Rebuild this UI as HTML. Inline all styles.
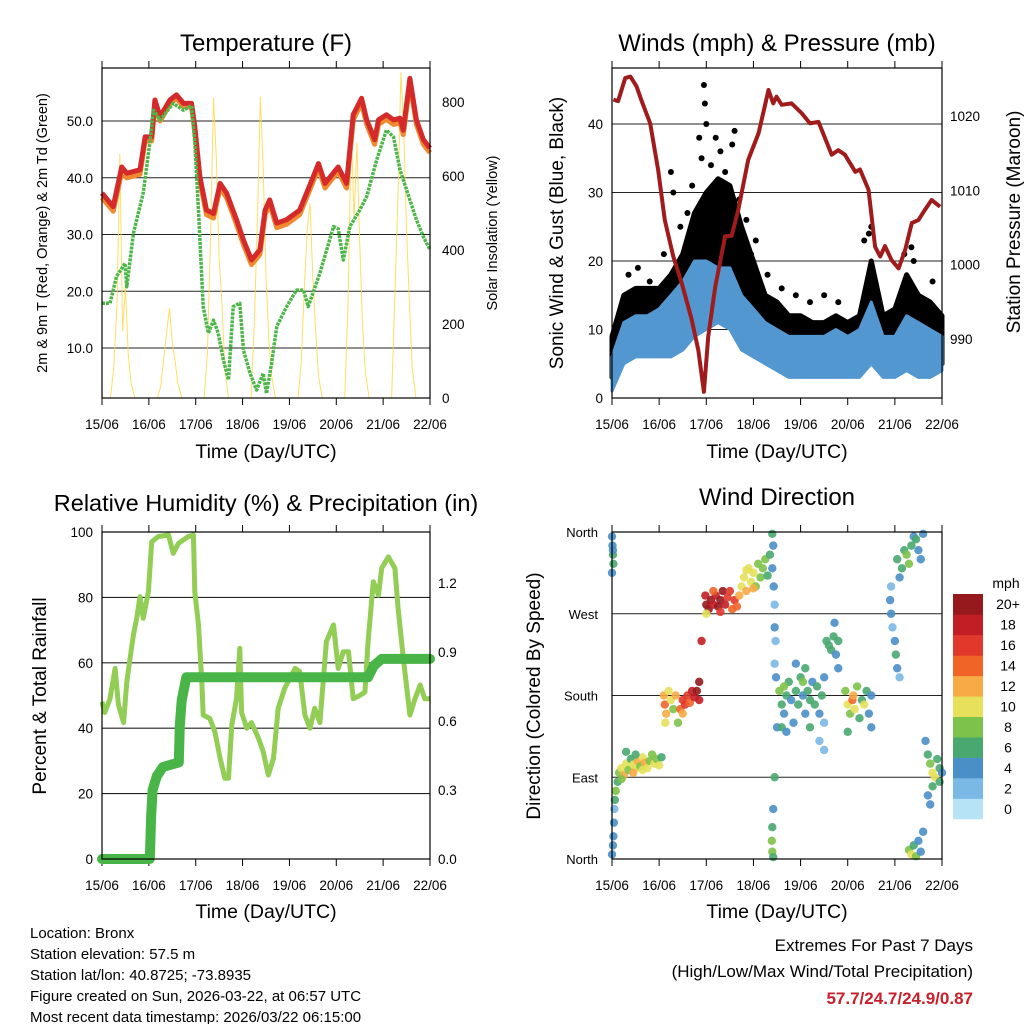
<!DOCTYPE html>
<html><head><meta charset="utf-8"><style>
html,body{margin:0;padding:0;background:#fff;}
svg{display:block;font-family:"Liberation Sans",Arial,sans-serif;}
</style></head><body>
<svg id="chart" width="1024" height="1024" viewBox="0 0 1024 1024" xmlns="http://www.w3.org/2000/svg">
<rect x="0" y="0" width="1024" height="1024" fill="#fff"/>
<g id="p1"></g>
<g id="p2"></g>
<g id="p3"></g>
<g id="p4"></g>

<text x="266" y="51" font-size="24" text-anchor="middle">Temperature (F)</text>
<text x="777" y="51" font-size="24" text-anchor="middle">Winds (mph) &amp; Pressure (mb)</text>
<text x="266" y="511" font-size="23.5" text-anchor="middle">Relative Humidity (%) &amp; Precipitation (in)</text>
<text x="777" y="505" font-size="24" text-anchor="middle">Wind Direction</text>

<text x="266" y="458" font-size="19.5" text-anchor="middle">Time (Day/UTC)</text>
<text x="777" y="458" font-size="19.5" text-anchor="middle">Time (Day/UTC)</text>
<text x="266" y="918" font-size="19.5" text-anchor="middle">Time (Day/UTC)</text>
<text x="777" y="918" font-size="19.5" text-anchor="middle">Time (Day/UTC)</text>

<text transform="translate(47,233) rotate(-90)" font-size="14.5" text-anchor="middle">2m &amp; 9m T (Red, Orange) &amp; 2m Td (Green)</text>
<text transform="translate(497,233) rotate(-90)" font-size="14.5" text-anchor="middle">Solar Insolation (Yellow)</text>
<text transform="translate(563,233) rotate(-90)" font-size="19" text-anchor="middle">Sonic Wind &amp; Gust (Blue, Black)</text>
<text transform="translate(1020,222) rotate(-90)" font-size="19" text-anchor="middle">Station Pressure (Maroon)</text>
<text transform="translate(46,696) rotate(-90)" font-size="19" text-anchor="middle">Percent &amp; Total Rainfall</text>
<text transform="translate(540,696) rotate(-90)" font-size="19" text-anchor="middle">Direction (Colored By Speed)</text>

<g font-size="15">
<text x="30" y="938">Location: Bronx</text>
<text x="30" y="959">Station elevation: 57.5 m</text>
<text x="30" y="980">Station lat/lon: 40.8725; -73.8935</text>
<text x="30" y="1001">Figure created on Sun, 2026-03-22, at 06:57 UTC</text>
<text x="30" y="1022">Most recent data timestamp: 2026/03/22 06:15:00</text>
</g>
<g text-anchor="end">
<text x="973" y="951" font-size="17">Extremes For Past 7 Days</text>
<text x="973" y="977" font-size="17">(High/Low/Max Wind/Total Precipitation)</text>
<text x="973" y="1004" font-size="17" font-weight="bold" fill="#c8202a">57.7/24.7/24.9/0.87</text>
</g>
<g id="cbar">
<text x="1006" y="588" font-size="14" text-anchor="middle">mph</text>
</g>
</svg>
<script>
// ---- Data ----
var dayLabels = ["15/06","16/06","17/06","18/06","19/06","20/06","21/06","22/06"];
var tempT = [0,0.24,0.42,0.53,0.81,0.92,1.06,1.13,1.24,1.45,1.59,1.74,1.91,1.98,2.09,2.23,2.38,2.52,2.66,2.87,3.02,3.19,3.37,3.48,3.58,3.73,3.94,4.22,4.51,4.62,4.76,5.04,5.22,5.36,5.54,5.65,5.82,5.90,6.07,6.22,6.36,6.43,6.57,6.71,6.86,7.0];
var temp2mV = [37.3,34.9,41.9,40.8,41.4,47.2,47.2,53.7,50.8,53.7,54.6,53.1,53.1,49.0,40.2,34.3,33.7,39.0,37.3,32.6,29.0,25.5,27.3,34.3,36.1,32.0,32.6,34.3,40.2,42.5,39.0,41.9,39.0,51.1,54.0,50.2,46.7,50.2,51.1,50.2,50.5,48.4,57.5,50.2,46.7,45.2];
var temp9mV = [36.5,34.1,41.0,40.0,40.6,46.4,46.5,53.0,50.0,53.0,54.0,52.5,52.5,48.3,39.4,33.5,32.9,38.2,36.5,31.8,28.2,24.7,26.5,33.5,35.3,31.2,31.8,33.5,39.4,41.7,38.2,41.1,38.2,50.2,53.2,49.4,45.9,49.4,50.3,49.4,49.7,47.6,56.7,49.4,45.9,44.4];
var dewT = [0,0.17,0.31,0.49,0.53,0.67,0.88,1.02,1.10,1.24,1.52,1.74,1.91,1.98,2.06,2.16,2.27,2.38,2.48,2.59,2.70,2.80,2.94,3.02,3.16,3.30,3.44,3.51,3.62,3.73,3.94,4.15,4.30,4.40,4.65,4.94,5.04,5.15,5.29,5.50,5.65,5.86,6.07,6.22,6.36,6.57,6.71,6.86,7.0];
var dewV = [17.9,17.9,22.6,24.9,20.8,30.2,37.3,46.1,51.9,50.2,53.1,51.9,52.7,46.1,34.3,17.3,12.6,14.9,12.6,7.9,4.4,17.3,17.9,9.6,5.5,2.6,5.5,2.0,7.3,13.8,17.3,20.2,20.2,17.3,23.2,31.4,31.0,25.5,31.4,34.3,36.7,43.1,48.4,47.2,41.4,36.1,32.6,29.6,27.3];
var solarT = [0.18,0.25,0.32,0.38,0.44,0.5,0.56,0.62,0.7, 1.18,1.25,1.32,1.38,1.44,1.5,1.56,1.62,1.7, 2.18,2.25,2.32,2.38,2.44,2.5,2.56,2.62,2.7, 3.18,3.25,3.32,3.38,3.44,3.5,3.56,3.62,3.7, 4.18,4.25,4.32,4.38,4.44,4.5,4.56,4.62,4.7, 5.18,5.25,5.32,5.38,5.44,5.5,5.56,5.62,5.7, 6.18,6.25,6.32,6.38,6.44,6.5,6.56,6.62,6.7];
var solarV = [0,80,250,660,180,300,120,40,0, 0,30,110,180,243,150,100,40,0, 0,120,450,811,650,380,250,80,0, 0,200,500,814,620,330,160,60,0, 0,90,300,450,527,320,180,60,0, 0,250,732,480,690,420,200,70,0, 0,280,560,880,720,450,260,80,0];
var pressT = [0.03,0.13,0.28,0.39,0.52,0.63,0.81,0.98,1.12,1.30,1.48,1.69,1.83,1.95,2.04,2.19,2.40,2.54,2.68,2.89,3.11,3.32,3.42,3.49,3.60,3.81,4.02,4.20,4.38,4.66,4.80,4.94,5.16,5.26,5.44,5.58,5.69,5.79,5.93,6.08,6.22,6.36,6.50,6.64,6.78,6.96];
var pressV = [1022.2,1022.0,1025.1,1025.3,1024.0,1022.0,1019.0,1012.7,1006.0,1001.1,997.5,992.6,988.5,982.9,990.3,997.0,1003.8,1003.9,1007.4,1014.1,1017.7,1023.5,1021.7,1022.6,1021.5,1021.7,1020.4,1019.0,1019.2,1014.8,1015.4,1014.8,1012.5,1012.8,1010.1,1002.4,1001.1,1002.5,1000.6,999.5,1002.0,1005.6,1006.0,1007.4,1008.7,1007.8];
var windT = [0,0.25,0.5,0.75,1,1.25,1.5,1.75,2,2.25,2.5,2.75,3,3.25,3.5,3.75,4,4.25,4.5,4.75,5,5.25,5.5,5.75,6,6.25,6.5,6.75,7];
var gustHi = [9,15,16,16,16,18,21,27,30,32,31,25,20,15,14,12,12,11,11,12,11,12,20,12,13,18,15,14,12];
var gustLo = [3,8,9,9,9,10,11,13,14,16,15,11,9,8,7,6,6,6,6,6,5,6,8,6,6,7,6,6,5];
var windHi = [6,11,12,12,13,15,17,20,20,19,19,15,13,11,10,9,9,9,9,10,9,10,14,9,9,12,11,10,9];
var windLo = [1,5,6,6,6,6,7,9,10,11,10,7,6,5,4,3,3,3,3,3,3,3,5,3,3,4,3,3,4];
var gustPeakT = [1.25,1.3,1.95,1.97,2.0,1.85,2.55,2.6,2.95,4.5,5.5,6.35,1.6,2.2,0.55,0.8,1.1,1.7,1.9,2.1,2.3,2.4,2.7,2.85,3.05,3.3,3.6,3.9,4.2,4.8,5.35,5.45,6.2,6.4,6.8,0.35,1.45];
var gustPeakV = [33,30,45.7,43,40,38,37,39,21,15,25,22,27,38,19,17,21,31,35,34,36,33,29,26,23,18,16,15,14,14,23,24,21,20,17,18,25];
var rhT = [0,0.06,0.17,0.28,0.35,0.46,0.53,0.60,0.67,0.74,0.81,0.88,0.99,1.06,1.20,1.42,1.52,1.63,1.84,1.95,1.98,2.06,2.13,2.16,2.30,2.41,2.52,2.62,2.70,2.77,2.87,2.94,2.98,3.09,3.19,3.34,3.44,3.55,3.66,3.76,3.90,4.12,4.22,4.33,4.44,4.54,4.65,4.79,4.94,5.04,5.15,5.26,5.36,5.50,5.61,5.68,5.79,5.90,5.97,6.11,6.25,6.32,6.43,6.57,6.68,6.79,6.89,7.0];
var rhV = [48.1,44.8,49.0,58.3,47.2,41.7,54.2,61.4,68.5,73.6,80.2,73.6,81.7,97.0,98.6,99.1,93.5,96.5,98.6,99.1,81.7,71.6,54.2,44.0,43.0,38.9,30.8,24.7,24.7,41.0,49.0,64.4,44.8,40.0,41.7,36.9,32.8,25.7,30.8,46.1,52.2,58.3,57.3,44.0,40.0,46.1,41.7,66.5,71.6,58.3,63.4,63.4,49.0,50.0,51.0,66.5,84.8,80.7,88.9,92.4,88.9,76.7,61.4,44.0,49.0,53.2,49.0,49.0];
var precipT = [0,1.02,1.05,1.08,1.17,1.30,1.64,1.66,1.70,1.80,5.68,5.80,5.97,7.0];
var precipV = [0,0,0.19,0.30,0.36,0.40,0.42,0.58,0.69,0.79,0.79,0.84,0.87,0.87];
var dirT = [0.0,0.01,0.02,0.03,0.0,0.02, 0.0,0.02,0.03,0.04,0.05,0.06,0.08,
 0.12,0.15,0.2,0.25,0.3,0.35,0.4,0.45,0.5,0.55,0.6,0.65,0.7,0.75,0.8,0.85,0.9,0.95,1.0,1.05,0.3,0.5,0.2,0.45,0.65,
 1.1,1.12,1.15,1.13,1.2,1.25,1.3,1.35,1.45,1.5,1.55,1.6,1.65,1.7,1.75,1.8,1.85,1.85,1.4,1.5,1.9,
 1.98,2.0,2.05,2.1,2.15,2.2,2.25,2.3,2.35,2.4,2.45,2.5,2.55,2.6,2.65,2.7,2.0,2.3,2.15,
 2.75,2.8,2.85,2.9,2.95,3.0,3.05,3.1,3.15,3.2,3.25,3.3,3.35,2.85,3.0,
 3.4,3.42,3.4,3.43,3.45,3.45,3.47,3.45,3.48,3.5,3.45,3.42,3.4,3.39,3.4,3.42,
 3.55,3.6,3.6,3.65,3.7,3.75,3.8,3.85,3.9,3.95,4.0,4.05,4.1,4.1,4.15,4.2,4.25,4.3,4.35,4.4,4.45,4.5,4.5,3.7,3.9,4.2,4.4,4.5,3.65,4.05,
 4.55,4.6,4.65,4.7,4.75,4.8,4.72,4.8,
 4.95,5.0,5.05,5.1,5.12,5.15,5.2,5.25,5.3,5.35,5.4,5.45,5.5,5.5,5.0,
 5.9,5.92,5.95,6.0,6.02,6.05,6.1,5.92,
 6.05,6.1,6.15,6.2,6.25,6.3,6.35,6.4,6.45,6.5,6.55,6.6,
 6.65,6.7,6.75,6.8,6.85,6.9,6.95,6.95,7.0,6.7,6.75,6.8,
 6.3,6.35,6.4,6.45,6.5,6.55,6.6];
var dirV = [355,345,335,325,315,340, 5,15,25,40,55,65,75,
 85,95,100,92,105,98,110,104,100,108,102,112,106,100,108,115,105,110,103,112,118,115,88,95,98,
 180,170,160,150,185,175,165,180,165,175,170,180,172,185,178,185,195,175,150,160,240,
 290,280,275,285,280,290,278,285,295,280,288,295,275,285,278,290,270,272,295,
 300,310,295,320,305,315,300,325,310,320,330,312,335,318,298,
 358,345,320,300,280,255,240,215,200,145,90,55,35,20,8,2,
 185,170,145,160,180,195,175,150,185,170,200,180,160,210,185,175,195,170,190,160,180,150,200,140,215,145,130,120,190,195,
 240,235,230,245,225,240,260,210,
 185,170,160,175,180,165,190,155,175,170,185,160,180,145,140,
 285,270,255,240,225,210,200,300,
 330,310,320,340,335,325,345,355,352,340,330,358,
 130,115,105,95,90,110,100,85,95,70,60,80,
 10,5,15,3,20,8,30];
var dirS = [4,4,6,6,5,4, 4,5,4,4,3,6,8,
 7,9,11,13,10,8,7,11,10,12,9,10,12,11,9,8,10,9,10,7,6,7,8,12,11,
 13,14,12,11,11,10,9,12,15,16,16,17,15,18,19,20,20,18,8,12,19,
 18,20,20,20,18,19,20,20,20,18,17,16,15,17,14,12,10,16,14,
 11,10,12,10,11,10,9,9,8,9,8,7,7,10,12,
 6,5,4,4,3,4,3,3,4,4,6,4,7,8,8,7,
 8,7,6,4,6,7,5,4,6,7,6,5,4,6,7,6,5,6,7,4,6,3,5,4,5,7,2,2,8,8,
 7,6,7,6,5,6,4,4,
 9,10,8,14,13,11,8,6,7,10,6,5,4,4,6,
 4,4,3,5,7,4,3,2,
 6,5,7,6,9,8,6,5,7,4,4,5,
 4,6,8,11,10,7,6,7,5,4,5,7,
 8,10,7,9,5,4,4];
var speedLabels = ["0","2","4","6","8","10","12","14","16","18","20+"];
var speedColors = ["#b7e3f7","#7ab8e6","#4a8fc8","#48a870","#7dc24a","#e6e05a","#f7aa45","#f06428","#e0392b","#c21e25","#961a1d"];

// ---- helpers ----
var NS = "http://www.w3.org/2000/svg";
function mk(parent, tag, attrs) {
  var e = document.createElementNS(NS, tag);
  for (var k in attrs) e.setAttribute(k, attrs[k]);
  parent.appendChild(e);
  return e;
}
function lin(d0, d1, r0, r1) { return function (v) { return r0 + (v - d0) / (d1 - d0) * (r1 - r0); }; }
function pathFrom(ts, vs, sx, sy) {
  var d = "";
  for (var i = 0; i < ts.length; i++) d += (i ? "L" : "M") + sx(ts[i]).toFixed(1) + "," + sy(vs[i]).toFixed(1);
  return d;
}
function bandFrom(ts, hi, lo, sx, sy) {
  var d = "";
  for (var i = 0; i < ts.length; i++) d += (i ? "L" : "M") + sx(ts[i]).toFixed(1) + "," + sy(hi[i]).toFixed(1);
  for (var j = ts.length - 1; j >= 0; j--) d += "L" + sx(ts[j]).toFixed(1) + "," + sy(lo[j]).toFixed(1);
  return d + "Z";
}

function frame(g, x0, y0, x1, y1) {
  var sx = lin(0, 7, x0, x1);
  for (var i = 0; i < dayLabels.length; i++) {
    var x = sx(i);
    var t = mk(g, "line", {x1: x, y1: y1, x2: x, y2: y1 + 7, stroke: "#000", "stroke-width": 1});
    
    
    var t2 = mk(g, "line", {x1: x, y1: y0, x2: x, y2: y0 - 7, stroke: "#000", "stroke-width": 1});
    
    
    var lb = mk(g, "text", {x: x, y: y1 + 31, "font-size": 13.5, "text-anchor": "middle"});
    lb.textContent = dayLabels[i];
    
    
  }
  return sx;
}
function border(g, x0, y0, x1, y1) {
  var r = mk(g, "rect", {x: x0, y: y0, width: x1 - x0, height: y1 - y0, fill: "none", stroke: "#000", "stroke-width": 1.2});
  
  
}
function hgrid(g, x0, x1, y) {
  var l = mk(g, "line", {x1: x0, y1: y, x2: x1, y2: y, stroke: "#222", "stroke-width": 1.1});
  
  
}
function ylabel(g, x, y, txt, anchor, size) {
  var t = mk(g, "text", {x: x, y: y + 5, "font-size": size || 13.5, "text-anchor": anchor});
  t.textContent = txt;
  
  
}

// ---- Panel 1: Temperature ----
(function () {
  var g = document.getElementById("p1");
  var X0 = 102, X1 = 430, Y0 = 68, Y1 = 398;
  var sx = frame(g, X0, Y0, X1, Y1);
  var sy = lin(10, 50, 348, 121);
  var sys = lin(0, 200, 398, 324);
  [10, 20, 30, 40, 50].forEach(function (v) { hgrid(g, X0, X1, sy(v)); ylabel(g, X0 - 9, sy(v), v.toFixed(1), "end"); });
  [0, 200, 400, 600, 800].forEach(function (v) { ylabel(g, X1 + 12, sys(v), String(v), "start"); });
  var s = mk(g, "path", {d: pathFrom(solarT, solarV, sx, sys), fill: "none", stroke: "#ffd84a", "stroke-width": 1, opacity: 0.85});
  
  
  var o = mk(g, "path", {d: pathFrom(tempT, temp9mV, sx, sy), fill: "none", stroke: "#f08a30", "stroke-width": 5, "stroke-linejoin": "round"});
  
  
  var r = mk(g, "path", {d: pathFrom(tempT, temp2mV, sx, sy), fill: "none", stroke: "#d42a2a", "stroke-width": 5, "stroke-linejoin": "round"});
  
  
  var d = mk(g, "path", {d: pathFrom(dewT, dewV, sx, sy), fill: "none", stroke: "#4cb748", "stroke-width": 3.5, "stroke-dasharray": "3 1", "stroke-linejoin": "round"});
  
  
  border(g, X0, Y0, X1, Y1);
})();

// ---- Panel 2: Winds & Pressure ----
(function () {
  var g = document.getElementById("p2");
  var X0 = 612, X1 = 942, Y0 = 68, Y1 = 398;
  var sx = frame(g, X0, Y0, X1, Y1);
  var sy = lin(0, 40, 398, 124);
  var syp = lin(990, 1020, 339, 116);
  [0, 10, 20, 30, 40].forEach(function (v) { if (v > 0) hgrid(g, X0, X1, sy(v)); ylabel(g, X0 - 9, sy(v), String(v), "end"); });
  [990, 1000, 1010, 1020].forEach(function (v) { ylabel(g, X1 + 8, syp(v), String(v), "start"); });
  var gb = mk(g, "path", {d: bandFrom(windT, gustHi, gustLo, sx, sy), fill: "#000", stroke: "#000", "stroke-width": 5, "stroke-linejoin": "round"});
  
  
  for (var i = 0; i < gustPeakT.length; i++) {
    var c = mk(g, "circle", {cx: sx(gustPeakT[i]), cy: sy(gustPeakV[i]), r: 3, fill: "#000"});
    
    
  }
  var wb = mk(g, "path", {d: bandFrom(windT, windHi, windLo, sx, sy), fill: "#5397d0", stroke: "#5397d0", "stroke-width": 3, "stroke-linejoin": "round"});
  
  
  var p = mk(g, "path", {d: pathFrom(pressT, pressV, sx, syp), fill: "none", stroke: "#a01c1c", "stroke-width": 4, "stroke-linejoin": "round"});
  
  
  border(g, X0, Y0, X1, Y1);
})();

// ---- Panel 3: RH & Precip ----
(function () {
  var g = document.getElementById("p3");
  var X0 = 102, X1 = 430, Y0 = 532, Y1 = 859;
  var sx = frame(g, X0, Y0, X1, Y1);
  var sy = lin(0, 100, 859, 532);
  var syp = lin(0, 0.3, 859, 790);
  [0, 20, 40, 60, 80, 100].forEach(function (v) { if (v > 0 && v < 100) hgrid(g, X0, X1, sy(v)); ylabel(g, X0 - 9, sy(v), String(v), "end"); });
  [0, 0.3, 0.6, 0.9, 1.2].forEach(function (v) { ylabel(g, X1 + 8, syp(v), v.toFixed(1), "start"); });
  var r = mk(g, "path", {d: pathFrom(rhT, rhV, sx, sy), fill: "none", stroke: "#92cd55", "stroke-width": 5, "stroke-linejoin": "round"});
  
  
  var p = mk(g, "path", {d: pathFrom(precipT, precipV, sx, syp), fill: "none", stroke: "#49b548", "stroke-width": 10, "stroke-linejoin": "round", "stroke-linecap": "round"});
  
  
  border(g, X0, Y0, X1, Y1);
})();

// ---- Panel 4: Wind direction ----
(function () {
  var g = document.getElementById("p4");
  var X0 = 612, X1 = 942, Y0 = 532, Y1 = 859;
  var sx = frame(g, X0, Y0, X1, Y1);
  var sy = lin(0, 360, 859, 532);
  var names = ["North", "East", "South", "West", "North"];
  [0, 90, 180, 270, 360].forEach(function (v, i) { hgrid(g, X0, X1, sy(v)); ylabel(g, X0 - 14, sy(v), names[i], "end", 13); });
  for (var i = 0; i < dirT.length; i++) {
    var ci = Math.min(10, Math.floor(dirS[i] / 2));
    var c = mk(g, "circle", {cx: sx(dirT[i]), cy: sy(dirV[i]), r: 4.2, fill: speedColors[ci], opacity: 0.9});
    
    
  }
  border(g, X0, Y0, X1, Y1);
  var cb = document.getElementById("cbar");
  var h = 225 / 11;
  for (var k = 0; k < speedColors.length; k++) {
    var top = 594 + (10 - k) * h;
    var rr = mk(cb, "rect", {x: 953, y: top, width: 30, height: h + 0.3, fill: speedColors[k]});
    
    
    var tl = mk(cb, "text", {x: 1008, y: top + h / 2 + 5, "font-size": 14, "text-anchor": "middle"});
    tl.textContent = speedLabels[k];
    
    
  }
})();
</script>
</body></html>
